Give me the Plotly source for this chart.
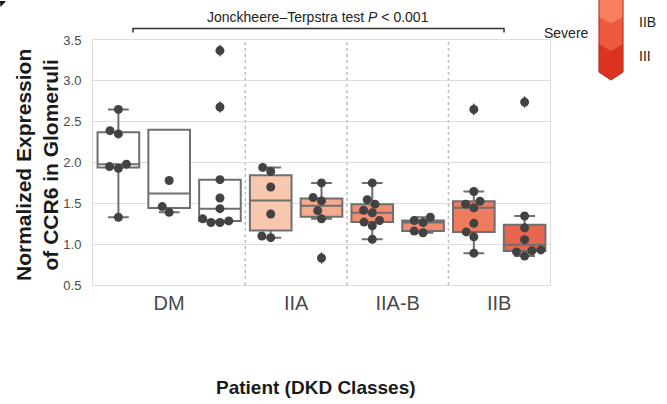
import numpy as np
import plotly.graph_objects as go

# ---------------- data ----------------
box_class = ["DM", "DM", "DM", "IIA", "IIA", "IIA-B", "IIA-B", "IIB", "IIB"]
dm_1 = [2.65, 2.39, 2.35, 1.98, 1.95, 1.93, 1.33]
dm_2 = [1.78, 1.46, 1.39, 4.26]
dm_3 = [3.37, 2.68, 1.79, 1.565, 1.435, 1.31, 1.285, 1.265, 1.265]
iia_1 = [1.94, 1.89, 1.70, 1.37, 1.10, 1.08]
iia_2 = [1.75, 1.57, 1.53, 1.41, 1.31, 0.83]
iiab_1 = [1.75, 1.545, 1.49, 1.415, 1.385, 1.29, 1.27, 1.225, 1.06]
iiab_2 = [1.33, 1.29, 1.265, 1.16, 1.14]
iib_1 = [2.65, 1.645, 1.525, 1.49, 1.445, 1.255, 1.15, 1.09, 0.89]
iib_2 = [2.74, 1.345, 1.20, 1.055, 0.93, 0.92, 0.905, 0.855]
box_data = [dm_1, dm_2, dm_3, iia_1, iia_2, iiab_1, iiab_2, iib_1, iib_2]
box_fill = ["#FFFFFF", "#FFFFFF", "#FFFFFF", "#F8C7B0", "#F6AA8E",
            "#F48E72", "#F28B6E", "#EF7B5F", "#E8664E"]
class_labels = ["DM", "IIA", "IIA-B", "IIB"]
y_ticks = [0.5, 1.0, 1.5, 2.0, 2.5, 3.0, 3.5]
legend_labels = ["IIB", "III"]
legend_colors = ["#F6805F", "#EC5A40", "#DB3322"]

# ---------------- layout constants ----------------
FW, FH = 667, 404
ML, MR, MT, MB = 93, 117, 40, 119
PW, PH = FW - ML - MR, FH - MT - MB
X_RANGE = [-0.5, len(box_data) - 0.5]
Y_RANGE = [0.5, 3.5]
px_x = PW / (X_RANGE[1] - X_RANGE[0])
px_y = PH / (Y_RANGE[1] - Y_RANGE[0])
DOT = 9
FONT = "Liberation Sans, Arial, sans-serif"
EDGE = "#6F6F6F"
DOTC = "#424242"


def fx(px):
    return (px - ML) / PW


def fy(py):
    return (MT + PH - py) / PH


def box_stats(vals):
    v = np.sort(np.asarray(vals, dtype=float))
    q1, med, q3 = np.percentile(v, [25, 50, 75])
    iqr = q3 - q1
    lo_lim, hi_lim = q1 - 1.5 * iqr, q3 + 1.5 * iqr
    ins_lo = v[v >= lo_lim]
    ins_hi = v[v <= hi_lim]
    lo = ins_lo.min() if ins_lo.size and ins_lo.min() <= q1 else q1
    hi = ins_hi.max() if ins_hi.size and ins_hi.max() >= q3 else q3
    fl = v[(v < lo) | (v > hi)]
    return q1, med, q3, lo, hi, fl


def swarm(vals, d=DOT):
    ypx = np.asarray(vals, dtype=float) * px_y
    order = np.argsort(ypx, kind="stable")
    placed = []
    offs = np.zeros(len(ypx))
    for i in order:
        y = ypx[i]
        nb = [(px, py) for px, py in placed if abs(py - y) < d]
        cands = [0.0]
        for px, py in nb:
            dx = np.sqrt(max(d * d - (py - y) ** 2, 0.0))
            cands += [px - dx, px + dx]
        cands = sorted(cands, key=lambda c: (abs(c), c))
        for c in cands:
            if all((c - px) ** 2 + (y - py) ** 2 >= d * d - 1e-6 for px, py in nb):
                break
        offs[i] = c
        placed.append((c, y))
    return offs / px_x


fig = go.Figure()

for i, vals in enumerate(box_data):
    q1, med, q3, lo, hi, fl = box_stats(vals)
    fig.add_trace(go.Box(
        x=[i], q1=[q1], median=[med], q3=[q3], lowerfence=[lo], upperfence=[hi],
        width=0.82, whiskerwidth=0.5, fillcolor=box_fill[i],
        line=dict(color=EDGE, width=2), boxpoints=False, hoverinfo="skip",
        showlegend=False))
    if len(fl):
        fig.add_trace(go.Scatter(
            x=[i] * len(fl), y=list(fl), mode="markers",
            marker=dict(symbol="diamond-tall", size=9, color=DOTC),
            hoverinfo="skip", showlegend=False))

for i, vals in enumerate(box_data):
    offs = swarm(vals)
    fig.add_trace(go.Scatter(
        x=i + offs, y=vals, mode="markers",
        marker=dict(size=DOT, color=DOTC, line=dict(width=0)),
        hoverinfo="skip", showlegend=False))

# category label positions and separators
cls_pos = [float(np.mean([i for i, c in enumerate(box_class) if c == lab])) for lab in class_labels]
seps = [i + 0.5 for i in range(len(box_class) - 1) if box_class[i] != box_class[i + 1]]

shapes = []
for s in seps:
    shapes.append(dict(type="line", xref="x", yref="paper", x0=s, x1=s, y0=0, y1=1,
                       line=dict(color="#BDBDBD", width=1.5, dash="dot"), layer="below"))

# significance bracket
shapes.append(dict(type="path", xref="paper", yref="paper",
                   path=f"M{fx(133)},{fy(32.5)} L{fx(133)},{fy(28.5)} L{fx(504)},{fy(28.5)} L{fx(504)},{fy(32.5)}",
                   line=dict(color="#333333", width=1.5)))

# chevron legend
L_, R_, C_ = 599, 623, 611
bounds = [(-10, -10), (17, 23), (44, 51), (72, 80)]
for k, col in enumerate(legend_colors):
    (ts, tc), (bs, bc) = bounds[k], bounds[k + 1]
    p = (f"M{fx(L_)},{fy(ts)} L{fx(C_)},{fy(tc)} L{fx(R_)},{fy(ts)} "
         f"L{fx(R_)},{fy(bs)} L{fx(C_)},{fy(bc)} L{fx(L_)},{fy(bs)} Z")
    shapes.append(dict(type="path", xref="paper", yref="paper", path=p,
                       fillcolor=col, line=dict(color=col, width=0.5)))
shapes.append(dict(type="path", xref="paper", yref="paper",
                   path=(f"M{fx(L_)},{fy(-10)} L{fx(L_)},{fy(72)} L{fx(C_)},{fy(80)} "
                         f"L{fx(R_)},{fy(72)} L{fx(R_)},{fy(-10)}"),
                   line=dict(color="#B8301E", width=1)))
# small mark at top-left corner
shapes.append(dict(type="path", xref="paper", yref="paper",
                   path=f"M{fx(0)},{fy(1)} L{fx(6)},{fy(1)} L{fx(0.5)},{fy(7)} Z",
                   fillcolor="#111111", line=dict(width=0)))

annotations = [
    dict(text="Jonckheere\u2013Terpstra test <i>P</i> < 0.001", xref="paper", yref="paper",
         x=fx(318), y=fy(17), xanchor="center", yanchor="middle", showarrow=False,
         font=dict(family=FONT, size=14, color="#222222")),
    dict(text="<b>Normalized Expression<br>of CCR6 in Glomeruli</b>", xref="paper", yref="paper",
         x=fx(37), y=fy(165), xanchor="center", yanchor="middle", textangle=-90, showarrow=False,
         font=dict(family=FONT, size=21, color="#1A1A1A")),
    dict(text="<b>Patient (DKD Classes)</b>", xref="paper", yref="paper",
         x=fx(316), y=fy(387), xanchor="center", yanchor="middle", showarrow=False,
         font=dict(family=FONT, size=19, color="#1A1A1A")),
    dict(text="Severe", xref="paper", yref="paper", x=fx(591), y=fy(33),
         xanchor="right", yanchor="middle", showarrow=False,
         font=dict(family=FONT, size=14, color="#222222")),
]
for lab, ypx in zip(legend_labels, [22, 56]):
    annotations.append(dict(text=lab, xref="paper", yref="paper", x=fx(637), y=fy(ypx),
                            xanchor="left", yanchor="middle", showarrow=False,
                            font=dict(family=FONT, size=14, color="#222222")))

fig.update_layout(
    width=FW, height=FH, margin=dict(l=ML, r=MR, t=MT, b=MB, autoexpand=False),
    paper_bgcolor="white", plot_bgcolor="white", boxmode="overlay",
    shapes=shapes, annotations=annotations, showlegend=False,
    xaxis=dict(range=X_RANGE, tickvals=cls_pos, ticktext=class_labels,
               showgrid=False, zeroline=False, showline=True, linecolor="#DDDDDD",
               linewidth=1, mirror=True, ticks="",
               tickfont=dict(family=FONT, size=20, color="#4A4A4A")),
    yaxis=dict(range=Y_RANGE, tickvals=y_ticks, tickformat=".1f",
               showgrid=True, gridcolor="#DDDDDD", gridwidth=1, zeroline=False,
               showline=True, linecolor="#DDDDDD", linewidth=1, mirror=True,
               ticks="outside", ticklen=8, tickcolor="rgba(0,0,0,0)",
               tickfont=dict(family=FONT, size=13, color="#4A4A4A")),
)

fig.write_html("out.html", config={"displayModeBar": False},
               post_script="document.body.style.margin='0px';document.body.style.overflow='hidden';")
